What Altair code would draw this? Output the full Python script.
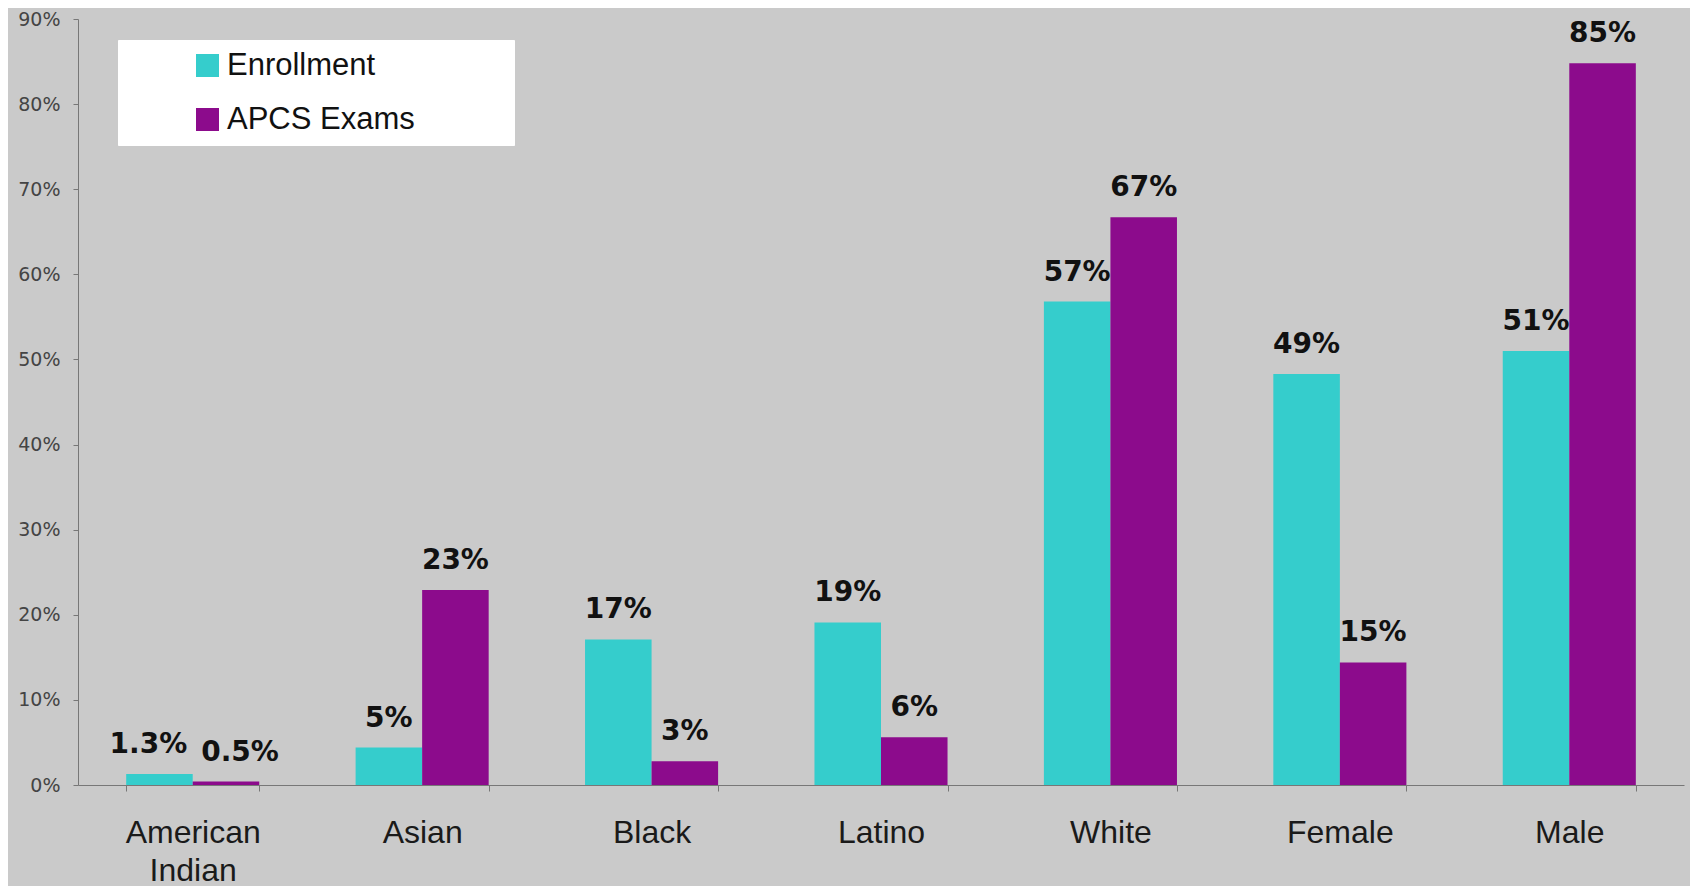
import altair as alt
import pandas as pd

categories = ["American Indian", "Asian", "Black", "Latino", "White", "Female", "Male"]
series = ["Enrollment", "APCS Exams"]
enrollment = [1.3, 4.4, 17.1, 19.1, 56.8, 48.3, 51.0]
apcs = [0.4, 22.9, 2.8, 5.6, 66.7, 14.4, 84.8]
enrollment_labels = ["1.3%", "5%", "17%", "19%", "57%", "49%", "51%"]
apcs_labels = ["0.5%", "23%", "3%", "6%", "67%", "15%", "85%"]
y_ticks = [0, 10, 20, 30, 40, 50, 60, 70, 80, 90]
colors = ["#35cdcc", "#8c0b8c"]

rows = []
for i, c in enumerate(categories):
    rows.append({"category": c, "series": series[0], "value": enrollment[i], "label": enrollment_labels[i]})
    rows.append({"category": c, "series": series[1], "value": apcs[i], "label": apcs_labels[i]})
df = pd.DataFrame(rows)

x_enc = alt.X(
    "category:N", sort=categories, title=None,
    scale=alt.Scale(paddingInner=0.42, paddingOuter=0.21),
    axis=alt.Axis(
        labelAngle=0, labelFont="Liberation Sans", labelFontSize=32, labelColor="#1a1a1a",
        labelPadding=26, labelLineHeight=38, labelLimit=400,
        labelExpr="datum.label == 'American Indian' ? ['American', 'Indian'] : datum.label",
        tickBand="extent", tickSize=6, tickColor="#777777", domainColor="#777777",
        grid=False,
    ),
)
xo_enc = alt.XOffset("series:N", sort=series, scale=alt.Scale(domain=series, paddingInner=0, paddingOuter=0))
y_enc = alt.Y(
    "value:Q", title=None,
    scale=alt.Scale(domain=[0, 90], nice=False),
    axis=alt.Axis(
        values=y_ticks, labelExpr="datum.value + '%'", grid=False,
        domainColor="#777777", tickColor="#777777", tickSize=5,
        labelFont="DejaVu Sans", labelFontSize=19, labelColor="#444444", labelPadding=13,
    ),
)

base = alt.Chart(df).encode(x=x_enc, xOffset=xo_enc, y=y_enc)

bars = base.mark_bar().encode(
    color=alt.Color(
        "series:N", sort=series,
        scale=alt.Scale(domain=series, range=colors),
        legend=alt.Legend(
            title=".", titleColor="white", titleFontSize=2, titleOrient="right", titlePadding=88,
            orient="none", legendX=40, legendY=21,
            fillColor="white", strokeColor="white", padding=10,
            symbolType="square", symbolSize=529, symbolOffset=64, symbolStrokeWidth=0,
            labelOffset=4, labelFont="Liberation Sans", labelFontSize=31, labelColor="#111111",
            labelLimit=600, rowPadding=22,
        ),
    )
)

text_style = dict(font="DejaVu Sans", fontSize=28, fontWeight="bold", color="#111111",
                  baseline="alphabetic", dy=-21)

labels_main = base.transform_filter(alt.datum.category != "American Indian").mark_text(**text_style).encode(text="label:N")
labels_ai1 = base.transform_filter(
    (alt.datum.category == "American Indian") & (alt.datum.series == "Enrollment")
).mark_text(dx=-11, **text_style).encode(text="label:N")
labels_ai2 = base.transform_filter(
    (alt.datum.category == "American Indian") & (alt.datum.series == "APCS Exams")
).mark_text(dx=14, **text_style).encode(text="label:N")

chart = alt.layer(bars, labels_main, labels_ai1, labels_ai2).properties(
    width=1606, height=766,
    autosize=alt.AutoSizeParams(type="none"),
    padding={"left": 70, "top": 11, "right": 6, "bottom": 101},
    background="#cacaca",
).configure_view(stroke=None)

chart.save("out.html", embed_options={"renderer": "svg", "actions": False})
